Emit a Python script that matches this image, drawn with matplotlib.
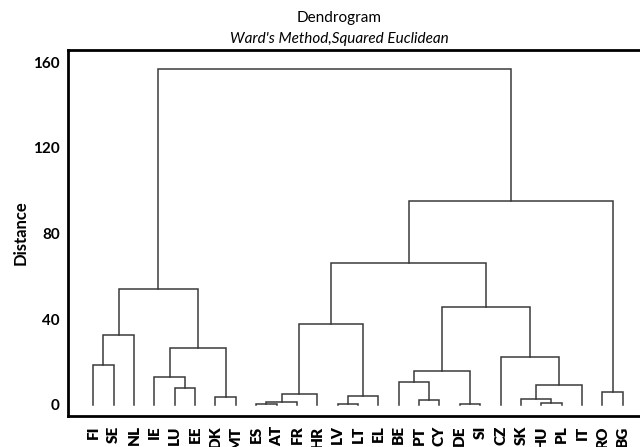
import matplotlib
matplotlib.use("Agg")
import matplotlib.pyplot as plt

plt.rcParams["font.family"] = ["Lato", "DejaVu Sans"]

# Leaf order along the x axis
LEAVES = ["FI", "SE", "NL", "IE", "LU", "EE", "DK", "MT", "ES", "AT", "FR",
          "HR", "LV", "LT", "EL", "BE", "PT", "CY", "DE", "SI", "CZ", "SK",
          "HU", "PL", "IT", "RO", "BG"]

# Merge steps: mN refers to the cluster made at step N
MERGE_LEFT = ["ES", "LV", "DE", "HU", "m0", "PT", "SK", "DK", "m1", "m4",
              "RO", "LU", "m6", "BE", "IE", "m13", "FI", "CZ", "m14", "m16",
              "m9", "m15", "m19", "m20", "m23", "m22"]
MERGE_RIGHT = ["AT", "LT", "SI", "PL", "FR", "CY", "m3", "MT", "EL", "HR",
               "BG", "EE", "IT", "m5", "m11", "m2", "SE", "m12", "m7", "NL",
               "m8", "m17", "m18", "m21", "m10", "m24"]
MERGE_HEIGHT = [0.3, 0.3, 0.6, 0.8, 1.5, 2.2, 2.8, 3.9, 4.3, 5.1,
                6.2, 8.1, 9.3, 10.9, 13.2, 16.0, 18.7, 22.4, 26.7, 32.6,
                37.6, 45.6, 54.1, 66.1, 95.3, 156.7]

Y_TICKS = [0, 40, 80, 120, 160]

LINE_COLOR = "#3a3a3a"


def node_pos(name, xs, hs):
    if name in xs:
        return xs[name], hs[name]
    return float(LEAVES.index(name)), 0.0


fig = plt.figure(figsize=(6.4, 4.47), dpi=100)
ax = fig.add_axes([68 / 640, 31.3 / 447, 1 - 68 / 640, 365.7 / 447])

xs, hs = {}, {}
for i, (a, b, h) in enumerate(zip(MERGE_LEFT, MERGE_RIGHT, MERGE_HEIGHT)):
    xa, ha = node_pos(a, xs, hs)
    xb, hb = node_pos(b, xs, hs)
    ax.plot([xa, xa, xb, xb], [ha, h, h, hb], color=LINE_COLOR, lw=1.1,
            solid_joinstyle="miter")
    xs[f"m{i}"] = (xa + xb) / 2
    hs[f"m{i}"] = h

ax.set_xlim(-1.24, 26.85)
ax.set_ylim(-5, 165.6)

ax.set_xticks(range(len(LEAVES)))
ax.set_xticklabels(LEAVES, rotation=90, fontweight="heavy", fontsize=11)
ax.set_yticks(Y_TICKS)
ax.set_yticklabels([str(v) for v in Y_TICKS], fontweight="bold", fontsize=11)
ax.tick_params(axis="both", length=0)
ax.tick_params(axis="x", pad=7)
ax.tick_params(axis="y", pad=6)

for side in ("left", "top", "bottom"):
    ax.spines[side].set_linewidth(2)
    ax.spines[side].set_color("black")
ax.spines["right"].set_visible(False)

ax.set_ylabel("Distance", fontsize=12, fontweight="bold", labelpad=3)

fig.text(0.53, 1 - 18 / 447, "Dendrogram", ha="center", va="center",
         fontsize=11)
fig.text(0.53, 1 - 39 / 447, "Ward's Method,Squared Euclidean",
         ha="center", va="center", fontsize=11, style="italic")

fig.savefig("out.png", dpi=100)
